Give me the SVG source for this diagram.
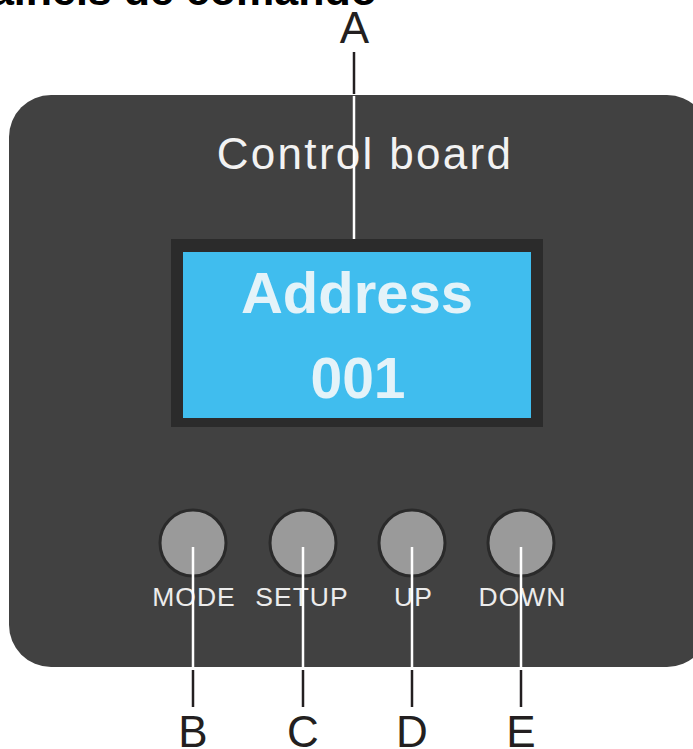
<svg xmlns="http://www.w3.org/2000/svg" width="693" height="749" viewBox="0 0 693 749">
<style>
.lbl{font-family:"Liberation Sans",Arial,sans-serif;font-size:44px;fill:#231f20;text-anchor:middle}
.btxt{font-family:"Liberation Sans",Arial,sans-serif;font-size:26.5px;fill:#ececec;text-anchor:middle;letter-spacing:1px}
.btn{fill:#9a9a9a;stroke:#2a2a2a;stroke-width:3}
.wl{stroke:#ffffff;stroke-width:2.5}
.bl{stroke:#231f20;stroke-width:2.5}
</style>
<rect width="693" height="749" fill="#ffffff"/>
<text x="377" y="5" font-family="'Liberation Sans',Arial,sans-serif" font-weight="bold" font-size="43" fill="#000" text-anchor="end">Painéis de comando</text>
<g id="board">
<rect x="9" y="95" width="700" height="572" rx="42" fill="#414141"/>
<text x="365" y="169" font-family="'Liberation Sans',Arial,sans-serif" font-size="44" fill="#f2f2f2" text-anchor="middle" letter-spacing="2.3">Control board</text>
</g>
<g id="screen">
<rect x="171" y="239" width="372" height="188" fill="#2b2b2b"/>
<rect x="183" y="252" width="348" height="166" fill="#40bdee"/>
<text x="357" y="313" font-family="'Liberation Sans',Arial,sans-serif" font-weight="bold" font-size="58" fill="#e4f3f9" text-anchor="middle">Address</text>
<text x="358" y="398" font-family="'Liberation Sans',Arial,sans-serif" font-weight="bold" font-size="57" fill="#e4f3f9" text-anchor="middle">001</text>
</g>
<g id="btn-mode"><circle class="btn" cx="193" cy="543" r="33"/><text class="btxt" x="194" y="606">MODE</text></g>
<g id="btn-setup"><circle class="btn" cx="303" cy="543" r="33"/><text class="btxt" x="302" y="606">SETUP</text></g>
<g id="btn-up"><circle class="btn" cx="412" cy="543" r="33"/><text class="btxt" x="413.5" y="606">UP</text></g>
<g id="btn-down"><circle class="btn" cx="521" cy="543" r="33"/><text class="btxt" x="522.5" y="606">DOWN</text></g>
<g id="connectors">
<line class="bl" x1="354" y1="52" x2="354" y2="94"/>
<line class="wl" x1="354" y1="96" x2="354" y2="239"/>
<line class="wl" x1="193" y1="547" x2="193" y2="667"/>
<line class="wl" x1="303" y1="547" x2="303" y2="667"/>
<line class="wl" x1="412" y1="547" x2="412" y2="667"/>
<line class="wl" x1="521" y1="547" x2="521" y2="667"/>
<line class="bl" x1="193" y1="670" x2="193" y2="707"/>
<line class="bl" x1="303" y1="670" x2="303" y2="707"/>
<line class="bl" x1="412" y1="670" x2="412" y2="707"/>
<line class="bl" x1="521" y1="670" x2="521" y2="707"/>
</g>
<g id="labels">
<text class="lbl" x="354.5" y="43">A</text>
<text class="lbl" x="193" y="747">B</text>
<text class="lbl" x="303" y="747">C</text>
<text class="lbl" x="412" y="747">D</text>
<text class="lbl" x="521" y="747">E</text>
</g>
</svg>
